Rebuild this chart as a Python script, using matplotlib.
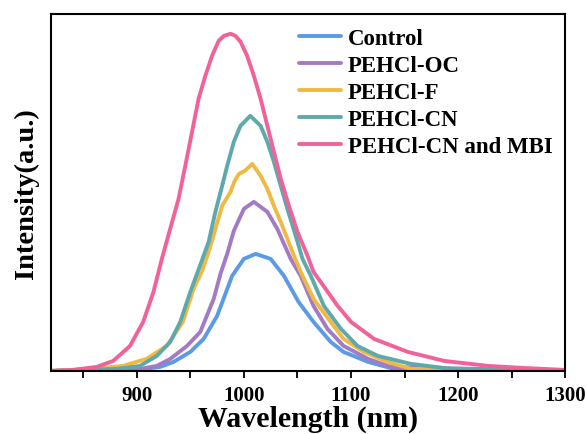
import matplotlib.pyplot as plt
import numpy as np

#===================================================================================================
#Values (wavelength in nm, intensity in a.u.)

wl_control = [820, 900, 921.8, 934.3, 950, 962.4, 975, 989, 1000, 1011, 1025, 1037.4, 1051, 1065, 1081, 1093, 1116, 1140, 1300]
int_control = [0, 1, 4, 9, 19, 32, 55, 95, 112, 117, 112, 95, 69, 49, 29, 19, 9, 2, 0]

wl_oc = [820, 880, 903, 918.7, 931.2, 946.9, 959.3, 971.8, 978.1, 984.4, 990.6, 1000, 1009.3, 1021.9, 1031.2, 1037, 1043.7,
         1053, 1065, 1078, 1093, 1116, 1137, 1300]
int_oc = [0, 1, 2, 5, 12, 25, 39, 72, 97, 117, 140, 162, 169, 159, 142, 128, 112,
          95, 65, 42, 25, 12, 4, 0]

wl_f = [820, 859, 887, 909, 928, 943, 953, 961, 967.1, 973.4, 979.7, 987.5, 991, 995.3, 1001, 1007.8, 1015.6, 1021.9,
        1028, 1034.4, 1040.6, 1046.8, 1053, 1065, 1081, 1093, 1112, 1134, 1156, 1300]
int_f = [0, 2, 5, 12, 25, 49, 82, 100, 119, 142, 165, 179, 189, 197, 200, 207, 195, 182,
         165, 149, 132, 115, 99, 72, 49, 32, 19, 9, 2, 0]

wl_cn = [820, 850, 881, 903, 918.7, 931.2, 940.6, 950, 959.3, 967.1, 973.4, 979.7, 984.4, 990.6, 996.8, 1006, 1015.6,
         1021.9, 1028, 1034.4, 1040.6, 1048.4, 1054.7, 1062.5, 1074.7, 1090.6, 1106, 1125, 1156, 1194, 1230, 1300]
int_cn = [0, 1, 2, 5, 15, 29, 49, 79, 106, 129, 159, 185, 205, 229, 245, 255, 245,
          229, 209, 185, 162, 135, 112, 95, 65, 42, 25, 15, 7, 2, 1, 0]

wl_mbi = [820, 840, 862.5, 878, 893.7, 906, 915.6, 923.4, 939, 945.3, 951.6, 957.7, 964, 970.3, 976.5, 981.5, 987.5,
          992, 996.9, 1003, 1009.3, 1015.6, 1021.9, 1028, 1034.4, 1042, 1050, 1059.4, 1065, 1087.5, 1100, 1121.5,
          1153, 1187, 1228, 1260, 1300]
int_mbi = [0, 1, 4, 10, 25, 49, 79, 112, 172, 205, 239, 272, 295, 315, 330, 335, 337,
           335, 329, 315, 295, 272, 245, 219, 192, 165, 139, 115, 99, 65, 49, 32,
           19, 10, 5, 3, 1]

labels = ['Control', 'PEHCl-OC', 'PEHCl-F', 'PEHCl-CN', 'PEHCl-CN and MBI']
colors = ['#5B9BE6', '#A27BC4', '#F0B942', '#5FA8AD', '#F1629B']

x_ticks = [900, 1000, 1100, 1200, 1300]
x_ticklabels = ['900', '1000', '1100', '1200', '1300']

#===================================================================================================
#Plot

plt.rcParams['font.family'] = ['Liberation Serif', 'DejaVu Serif']
plt.rcParams['font.weight'] = 'bold'

fig = plt.figure(figsize=(5.87, 4.35), dpi=100)
ax = fig.add_axes([0.087, 0.145, 0.876, 0.821])

series = [(wl_control, int_control), (wl_oc, int_oc), (wl_f, int_f), (wl_cn, int_cn), (wl_mbi, int_mbi)]
for (x, y), lab, col in zip(series, labels, colors):
    ax.plot(x, y, color=col, lw=2.8, label=lab, solid_capstyle='round', solid_joinstyle='round')

ax.set_xlim(820, 1300)
ax.set_ylim(0, 357)
ax.set_xticks(x_ticks)
ax.set_xticklabels(x_ticklabels, fontsize=15, fontweight='bold')
ax.set_xticks(np.arange(850, 1300, 100), minor=True)
ax.set_yticks([])
ax.tick_params(axis='x', which='major', direction='out', length=5, width=1.3, pad=5)
ax.tick_params(axis='x', which='minor', direction='out', length=5, width=1.3)
for sp in ax.spines.values():
    sp.set_linewidth(1.5)

# axis titles as figure texts, placed under the tick labels and left of the box
fig.text(0.525, 0.005, 'Wavelength (nm)', fontsize=21.5, fontweight='bold', ha='center', va='bottom')
fig.text(0.045, 0.555, 'Intensity(a.u.)', fontsize=20.5, fontweight='bold', rotation=90, ha='center', va='center')

ax.legend(loc='upper left', bbox_to_anchor=(0.455, 1.0), frameon=False, fontsize=16.5,
          handlelength=1.85, handletextpad=0.3, labelspacing=0.27, borderaxespad=0.2)

plt.savefig('out.png', dpi=100)
